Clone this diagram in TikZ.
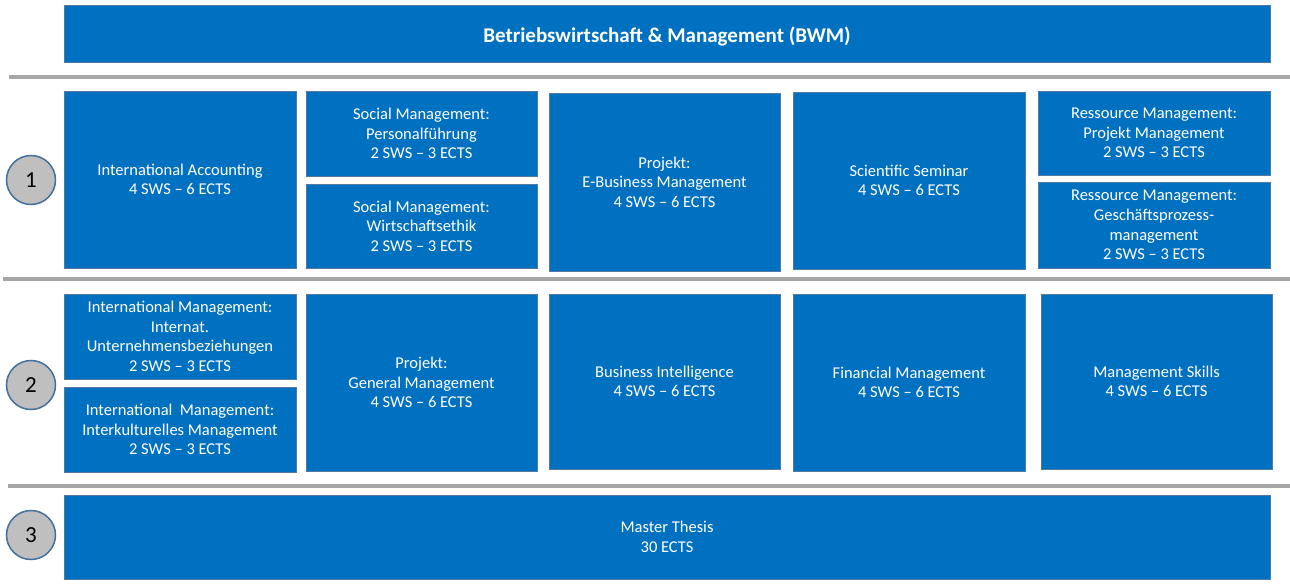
\documentclass[tikz,border=0pt]{standalone}
\usepackage{fontspec}
\setmainfont{Carlito}
\definecolor{boxblue}{RGB}{0,112,192}
\definecolor{boxedge}{RGB}{84,122,162}
\definecolor{sepgray}{RGB}{166,166,166}
\definecolor{circgray}{RGB}{191,191,191}
\definecolor{circedge}{RGB}{65,113,156}
\tikzset{
  modul/.style={draw=boxedge, line width=0.9pt, fill=boxblue, text=white, align=center,
    inner sep=0pt, font=\fontsize{16.5}{19.6}\selectfont},
  titlebox/.style={modul, font=\bfseries\fontsize{21}{24}\selectfont},
  circ/.style={circle, draw=circedge, line width=1.5pt, fill=circgray, minimum size=49pt,
    inner sep=0pt, font=\fontsize{23}{25}\selectfont},
  sepline/.style={draw=sepgray, line width=3.2pt}
}
\newcommand\modbox[7][modul]{\node[#1, minimum width={#5-#3}, minimum height={#6-#4}] (#2) at ({(#3+#5)/2},{-(#4+#6)/2}) {#7};}
\begin{document}
\begin{tikzpicture}[x=1pt,y=1pt]
\useasboundingbox (0,0) rectangle (1290,-585);
% separators
\coordinate (s1a) at (9,-77);   \coordinate (s1b) at (1290,-77);
\coordinate (s2a) at (3,-279);  \coordinate (s2b) at (1290,-279);
\coordinate (s3a) at (8,-486);  \coordinate (s3b) at (1290,-486);
\draw[sepline] (s1a) -- (s1b);
\draw[sepline] (s2a) -- (s2b);
\draw[sepline] (s3a) -- (s3b);
% title
\modbox[titlebox]{title}{64}{5}{1270}{62}{}
\node[text=white, font=\bfseries\fontsize{21}{24}\selectfont, inner sep=0pt] (titletext) at ([yshift=-2.5pt]title.center) {Betriebswirtschaft \& Management (BWM)};
% semester 1
\node[circ] (c1) at (31,-180) {1};
\modbox{ia}{64}{91}{296}{268}{International Accounting\\4 SWS – 6 ECTS}
\modbox{soc1}{306}{91}{537}{176}{Social Management:\\Personalführung\\2 SWS – 3 ECTS}
\modbox{soc2}{306}{184}{537}{268}{Social Management:\\Wirtschaftsethik\\2 SWS – 3 ECTS}
\modbox{ebiz}{549}{93}{780}{271}{Projekt:\\E-Business Management\\4 SWS – 6 ECTS}
\modbox{sci}{793}{92}{1025}{269}{Scientific Seminar\\4 SWS – 6 ECTS}
\modbox{res1}{1038}{91}{1270}{175}{Ressource Management:\\Projekt Management\\2 SWS – 3 ECTS}
\modbox{res2}{1038}{182}{1270}{268}{Ressource Management:\\Geschäftsprozess-\\management\\2 SWS – 3 ECTS}
% semester 2
\node[circ] (c2) at (31,-385) {2};
\modbox{im1}{64}{294}{296}{379}{International Management:\\Internat.\\Unternehmensbeziehungen\\2 SWS – 3 ECTS}
\modbox{im2}{64}{387}{296}{472}{International\ \ Management:\\Interkulturelles Management\\2 SWS – 3 ECTS}
\modbox{gen}{306}{294}{537}{471}{Projekt:\\General Management\\4 SWS – 6 ECTS}
\modbox{bi}{549}{294}{780}{469}{Business Intelligence\\4 SWS – 6 ECTS}
\modbox{fin}{793}{294}{1025}{471}{Financial Management\\4 SWS – 6 ECTS}
\modbox{ms}{1041}{294}{1272}{469}{Management Skills\\4 SWS – 6 ECTS}
% semester 3
\node[circ] (c3) at (31,-535) {3};
\modbox{thesis}{64}{495}{1270}{579}{Master Thesis\\30 ECTS}
\end{tikzpicture}
\end{document}
